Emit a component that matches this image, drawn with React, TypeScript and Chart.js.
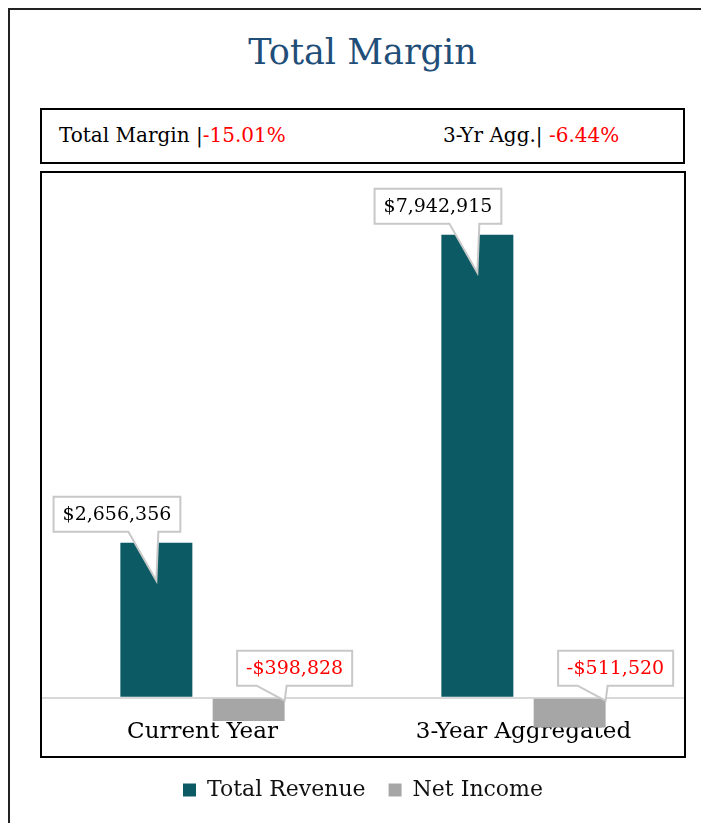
import React, { useEffect, useRef } from "react";
import { Chart, registerables } from "chart.js";

Chart.register(...registerables);

const categories = ["Current Year", "3-Year Aggregated"];
const seriesNames = ["Total Revenue", "Net Income"];
const totalRevenue = [2656356, 7942915];
const netIncome = [-398828, -511520];
const marginLabels = ["Total Margin", "3-Yr Agg."];
const marginValues = ["-15.01%", "-6.44%"];
const yMin = -1000000;
const yMax = 9000000;

const FONT = "'DejaVu Serif', serif";
const TEAL = "#0b5a64";
const GRAY = "#a6a6a6";
const RED = "#ff0000";

const fmt = (v: number) => (v < 0 ? "-$" : "$") + Math.abs(v).toLocaleString("en-US");

const calloutPlugin = {
  id: "callouts",
  afterDatasetsDraw(chart: any) {
    const ctx = chart.ctx;
    ctx.save();
    ctx.font = `19px ${FONT}`;
    ctx.textAlign = "center";
    ctx.textBaseline = "middle";
    chart.data.datasets.forEach((ds: any, di: number) => {
      const meta = chart.getDatasetMeta(di);
      meta.data.forEach((el: any, i: number) => {
        const v = ds.data[i] as number;
        const text = fmt(v);
        const tw = ctx.measureText(text).width;
        const bw = tw + 18;
        const bh = 35;
        let tipX: number, tipY: number, bx: number, bBottom: number, pL: number, pR: number;
        if (v >= 0) {
          tipX = el.x;
          tipY = el.y + 38;
          bBottom = el.y - 11;
          bx = el.x + 24 - bw;
          pL = el.x - 28;
          pR = el.x + 2;
        } else {
          tipX = el.x + el.width / 2;
          tipY = el.base + 2;
          bBottom = el.base - 13;
          bx = tipX + 10 - bw / 2;
          pL = tipX - 28;
          pR = tipX + 2;
        }
        const bTop = bBottom - bh;
        ctx.beginPath();
        ctx.moveTo(bx, bTop);
        ctx.lineTo(bx + bw, bTop);
        ctx.lineTo(bx + bw, bBottom);
        ctx.lineTo(pR, bBottom);
        ctx.lineTo(tipX, tipY);
        ctx.lineTo(pL, bBottom);
        ctx.lineTo(bx, bBottom);
        ctx.closePath();
        ctx.fillStyle = "#ffffff";
        ctx.fill();
        ctx.lineWidth = 2;
        ctx.strokeStyle = "#c8c8c8";
        ctx.stroke();
        ctx.fillStyle = v < 0 ? RED : "#000000";
        ctx.fillText(text, bx + bw / 2, bTop + bh / 2 + 1);
      });
    });
    ctx.restore();
  },
};

const borderPlugin = {
  id: "areaBorder",
  afterDraw(chart: any) {
    const { left, top, width, height } = chart.chartArea;
    const ctx = chart.ctx;
    ctx.save();
    ctx.lineWidth = 2;
    ctx.strokeStyle = "#000000";
    ctx.strokeRect(left - 1, top - 1, width + 2, height + 2);
    ctx.restore();
  },
};

function MarginChart() {
  const ref = useRef<HTMLCanvasElement | null>(null);
  useEffect(() => {
    if (!ref.current) return;
    const chart = new Chart(ref.current, {
      type: "bar",
      data: {
        labels: categories,
        datasets: [
          { label: seriesNames[0], data: totalRevenue, backgroundColor: TEAL },
          { label: seriesNames[1], data: netIncome, backgroundColor: GRAY },
        ],
      },
      options: {
        animation: false,
        responsive: true,
        maintainAspectRatio: false,
        datasets: { bar: { categoryPercentage: 0.575, barPercentage: 0.78 } },
        layout: { padding: { left: 2, right: 2, top: 2, bottom: 0 } },
        scales: {
          x: {
            type: "category",
            position: { y: 0 } as any,
            z: 1,
            grid: { display: false, drawTicks: false },
            border: { display: false },
            ticks: { padding: 21, color: "#000", font: { family: FONT, size: 23 } },
          },
          y: {
            min: yMin,
            max: yMax,
            ticks: { display: false, stepSize: 1000000 },
            grid: {
              drawTicks: false,
              lineWidth: 2,
              color: (c: any) => (c.tick && c.tick.value === 0 ? "#d9d9d9" : "rgba(0,0,0,0)"),
            },
            border: { display: false },
          },
        },
        plugins: {
          legend: {
            position: "bottom",
            labels: {
              boxWidth: 13,
              boxHeight: 13,
              padding: 23,
              color: "#111",
              font: { family: FONT, size: 22 },
            },
          },
          tooltip: { enabled: false },
        },
      },
      plugins: [calloutPlugin, borderPlugin],
    });
    return () => chart.destroy();
  }, []);
  return <canvas ref={ref} />;
}

export default function App() {
  return (
    <div style={{ position: "relative", height: 815, overflow: "hidden", fontFamily: FONT }}>
      <div
        style={{
          position: "absolute",
          left: 0,
          top: 0,
          width: 710,
          height: 900,
          border: "2px solid #222",
          boxSizing: "border-box",
        }}
      />
      <div
        style={{
          position: "absolute",
          left: 32,
          top: 24,
          width: 645,
          height: 40,
          lineHeight: "40px",
          textAlign: "center",
          fontSize: 35,
          color: "#1f4e79",
        }}
      >
        Total Margin
      </div>
      <div
        style={{
          position: "absolute",
          left: 32,
          top: 100,
          width: 645,
          height: 56,
          border: "2px solid #000",
          boxSizing: "border-box",
          fontSize: 20,
          color: "#000",
        }}
      >
        <div style={{ position: "absolute", left: 17, top: 0, height: 52, lineHeight: "50px", whiteSpace: "nowrap" }}>
          {marginLabels[0]} |<span style={{ color: RED }}>{marginValues[0]}</span>
        </div>
        <div style={{ position: "absolute", left: 401, top: 0, height: 52, lineHeight: "50px", whiteSpace: "nowrap" }}>
          {marginLabels[1]}| <span style={{ color: RED }}>{marginValues[1]}</span>
        </div>
      </div>
      <div style={{ position: "absolute", left: 32, top: 163, width: 646, height: 640 }}>
        <MarginChart />
      </div>
    </div>
  );
}
